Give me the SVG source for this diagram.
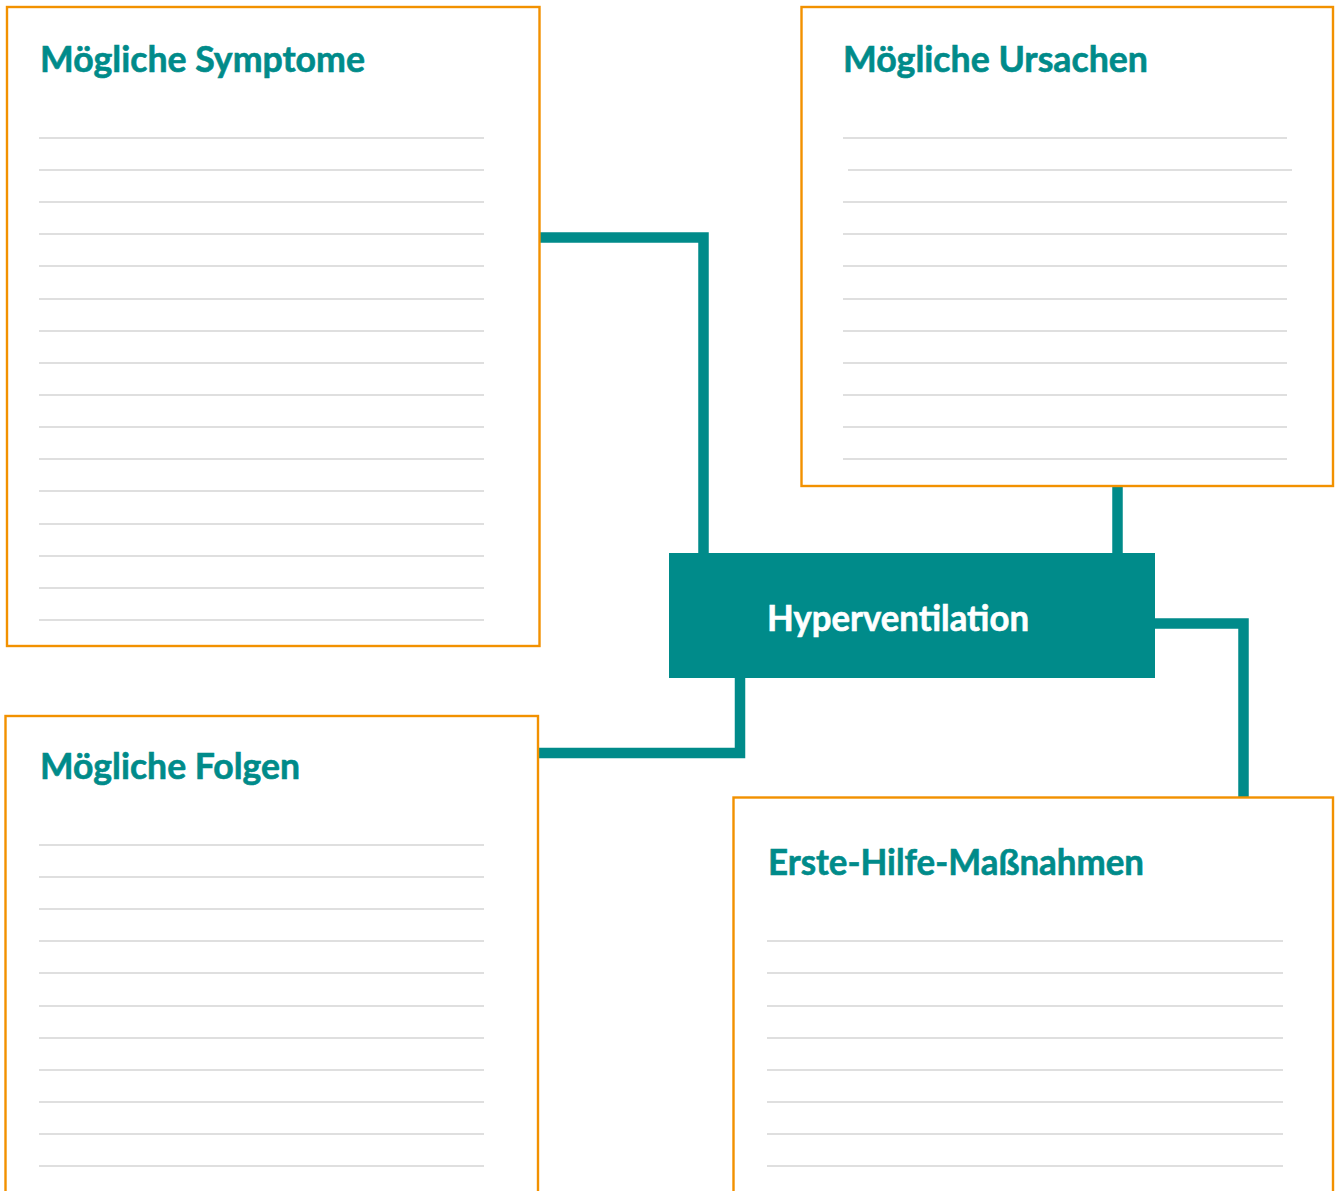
<svg xmlns="http://www.w3.org/2000/svg" width="1335" height="1191" viewBox="0 0 1335 1191">
<style>
.box{fill:#fff;stroke:#F29100;stroke-width:2.4}
.title{font-family:Lato,"Liberation Sans",sans-serif;font-weight:700;font-size:36px;fill:#008B8A;stroke:#008B8A;stroke-width:0.6}
.hv{font-family:Lato,"Liberation Sans",sans-serif;font-weight:700;font-size:36px;fill:#fff;stroke:#fff;stroke-width:0.6}
.ln{stroke:#D4D4D4;stroke-width:1.3}
.conn{fill:none;stroke:#008B8A;stroke-width:10.5;stroke-linejoin:miter}
</style>
<rect width="1335" height="1191" fill="#fff"/>
<g id="connectors">
<path class="conn" d="M540 237.5 H703.5 V553"/>
<path class="conn" d="M1117.5 486 V553"/>
<path class="conn" d="M1155 623.5 H1243.5 V797"/>
<path class="conn" d="M740 678 V753 H539"/>
</g>
<g id="symptome">
<rect class="box" x="7" y="7" width="532.5" height="639"/>
<text class="title" x="40" y="72" textLength="325" lengthAdjust="spacingAndGlyphs">Mögliche Symptome</text>
<g class="ln">
<line x1="39" x2="484" y1="138" y2="138"/><line x1="39" x2="484" y1="170" y2="170"/><line x1="39" x2="484" y1="202" y2="202"/><line x1="39" x2="484" y1="234" y2="234"/><line x1="39" x2="484" y1="266" y2="266"/><line x1="39" x2="484" y1="299" y2="299"/><line x1="39" x2="484" y1="331" y2="331"/><line x1="39" x2="484" y1="363" y2="363"/><line x1="39" x2="484" y1="395" y2="395"/><line x1="39" x2="484" y1="427" y2="427"/><line x1="39" x2="484" y1="459" y2="459"/><line x1="39" x2="484" y1="491" y2="491"/><line x1="39" x2="484" y1="524" y2="524"/><line x1="39" x2="484" y1="556" y2="556"/><line x1="39" x2="484" y1="588" y2="588"/><line x1="39" x2="484" y1="620" y2="620"/>
</g>
</g>
<g id="ursachen">
<rect class="box" x="801.5" y="7" width="531.5" height="479"/>
<text class="title" x="843" y="72" textLength="305" lengthAdjust="spacingAndGlyphs">Mögliche Ursachen</text>
<g class="ln">
<line x1="843" x2="1287" y1="138" y2="138"/><line x1="848" x2="1292" y1="170" y2="170"/><line x1="843" x2="1287" y1="202" y2="202"/><line x1="843" x2="1287" y1="234" y2="234"/><line x1="843" x2="1287" y1="266" y2="266"/><line x1="843" x2="1287" y1="299" y2="299"/><line x1="843" x2="1287" y1="331" y2="331"/><line x1="843" x2="1287" y1="363" y2="363"/><line x1="843" x2="1287" y1="395" y2="395"/><line x1="843" x2="1287" y1="427" y2="427"/><line x1="843" x2="1287" y1="459" y2="459"/>
</g>
</g>
<g id="hyperventilation">
<rect x="669" y="553" width="486" height="125" fill="#008B8A"/>
<text class="hv" x="767" y="631" textLength="262" lengthAdjust="spacingAndGlyphs">Hyperventilation</text>
</g>
<g id="folgen">
<rect class="box" x="5.5" y="716" width="532.5" height="490"/>
<text class="title" x="40" y="779" textLength="260" lengthAdjust="spacingAndGlyphs">Mögliche Folgen</text>
<g class="ln">
<line x1="39" x2="484" y1="845" y2="845"/><line x1="39" x2="484" y1="877" y2="877"/><line x1="39" x2="484" y1="909" y2="909"/><line x1="39" x2="484" y1="941" y2="941"/><line x1="39" x2="484" y1="973" y2="973"/><line x1="39" x2="484" y1="1006" y2="1006"/><line x1="39" x2="484" y1="1038" y2="1038"/><line x1="39" x2="484" y1="1070" y2="1070"/><line x1="39" x2="484" y1="1102" y2="1102"/><line x1="39" x2="484" y1="1134" y2="1134"/><line x1="39" x2="484" y1="1166" y2="1166"/>
</g>
</g>
<g id="massnahmen">
<rect class="box" x="733.5" y="797.5" width="599.5" height="410"/>
<text class="title" x="768" y="875" textLength="376" lengthAdjust="spacingAndGlyphs">Erste-Hilfe-Maßnahmen</text>
<g class="ln">
<line x1="767" x2="1283" y1="941" y2="941"/><line x1="767" x2="1283" y1="973" y2="973"/><line x1="767" x2="1283" y1="1006" y2="1006"/><line x1="767" x2="1283" y1="1038" y2="1038"/><line x1="767" x2="1283" y1="1070" y2="1070"/><line x1="767" x2="1283" y1="1102" y2="1102"/><line x1="767" x2="1283" y1="1134" y2="1134"/><line x1="767" x2="1283" y1="1166" y2="1166"/>
</g>
</g>
</svg>
